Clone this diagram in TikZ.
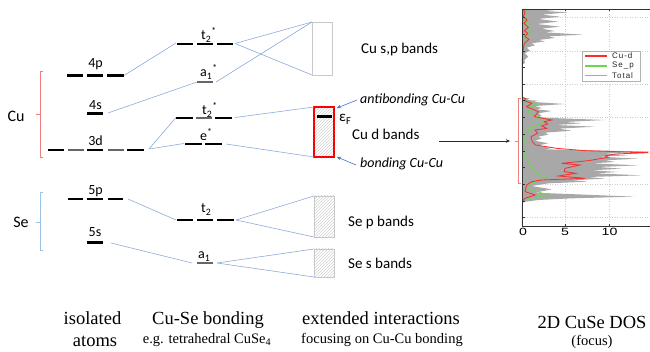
\documentclass[tikz,border=0pt]{standalone}
\usepackage{fontspec}
\setmainfont{Carlito}
\newfontfamily\capfont{Liberation Serif}
\newfontfamily\plotfont{Liberation Sans}
\newfontfamily\legfont[LetterSpace=12]{Liberation Sans}
\usetikzlibrary{patterns,arrows.meta}
\definecolor{linkblue}{HTML}{8FAADC}
\definecolor{arrblue}{HTML}{4472C4}
\definecolor{cured}{HTML}{F08080}
\definecolor{seblue}{HTML}{9DC3E6}
\definecolor{boxgray}{HTML}{C8C8C8}
\definecolor{dosred}{HTML}{FF2A2A}
\definecolor{dosgreen}{HTML}{6AD84A}
\definecolor{dosgray}{HTML}{A8A8A8}
\begin{document}
\begin{tikzpicture}[x=1pt,y=-1pt,
  lev/.style={line width=2.2pt},
  levthin/.style={line width=1.1pt, black!60},
  link/.style={linkblue, line width=0.6pt},
  lvl/.style={font=\fontsize{14}{14}\selectfont, inner sep=0pt, anchor=base},
  mlvl/.style={font=\fontsize{14}{14}\selectfont, inner sep=0pt, anchor=base west},
  band/.style={font=\fontsize{15}{15}\selectfont, inner sep=0pt, anchor=base west},
  ital/.style={font=\fontsize{14}{14}\selectfont\itshape, inner sep=0pt, anchor=base west},
  atom/.style={font=\fontsize{16}{16}\selectfont, inner sep=0pt},
  bigcap/.style={font=\capfont\fontsize{18.5}{18.5}\selectfont, inner sep=0pt, anchor=base},
  smallcap/.style={font=\capfont\fontsize{14.5}{14.5}\selectfont, inner sep=0pt, anchor=base},
  bandbox/.style={draw=boxgray, line width=0.6pt, inner sep=0pt, outer sep=0pt,
    pattern=north east lines, pattern color=gray!35},
  blarrow/.style={arrblue, line width=0.6pt, -{Stealth[length=4pt,width=3.5pt]}},
  tick/.style={line width=0.5pt, black!80},
  grid/.style={gray!40, dotted, line width=0.5pt},
  legtext/.style={font=\legfont\fontsize{8}{8}\selectfont, inner sep=0pt, anchor=west, text=black!85}
]
\useasboundingbox (0,0) rectangle (650,352);

% ---------------- isolated atoms ----------------
\draw[cured, line width=0.8pt] (43,71) -- (40,71) -- (40,157) -- (43,157);
\draw[cured, line width=0.8pt] (40,114) -- (36,114);
\node[atom] (cu) at (16,116) {Cu};
\draw[seblue, line width=0.8pt] (43,192) -- (40,192) -- (40,250) -- (43,250);
\draw[seblue, line width=0.8pt] (40,222) -- (36,222);
\node[atom] (se) at (21,222) {Se};

% 4p
\draw[lev] (67,75.5) -- (83,75.5) (87,75.5) -- (103,75.5) (107,75.5) -- (124,75.5);
\node[lvl] (l4p) at (95.5,68) {4p};
% 4s
\draw[lev] (87,113.5) -- (103,113.5);
\node[lvl] (l4s) at (95.5,109.5) {4s};
% 3d
\draw[lev] (48,150) -- (64,150) (87,150) -- (103,150) (127,150) -- (144,150);
\draw[levthin] (68,150) -- (84,150) (108,150) -- (124,150);
\node[lvl] (l3d) at (95.5,146) {3d};
% 5p
\draw[line width=1.2pt] (68,199) -- (83,199) (108,199) -- (123,199);
\draw[lev] (87,199) -- (103,199);
\node[lvl] (l5p) at (95.5,195) {5p};
% 5s
\draw[lev] (87,242.5) -- (103,242.5);
\node[lvl] (l5s) at (95,236.5) {5s};

% endpoints on the left
\coordinate (p4R) at (124,75.5);
\coordinate (s4R) at (108,113);
\coordinate (d3R) at (149,149);
\coordinate (p5R) at (128,199);
\coordinate (s5R) at (111,243);

% ---------------- Cu-Se bonding ----------------
\draw[lev] (177,44) -- (193,44) (197,44) -- (213,44) (217,44) -- (233,44);
\node[mlvl] (t2sa) at (201,40) {t\textsubscript{2}\textsuperscript{*}};
\draw[levthin] (197,82) -- (213,82);
\node[mlvl] (a1s) at (200,77) {a\textsubscript{1}\textsuperscript{*}};
\draw[lev] (176,118) -- (193,118) (215,118) -- (232,118);
\draw[levthin] (196,118) -- (212,118);
\node[mlvl] (t2sb) at (202,115) {t\textsubscript{2}\textsuperscript{*}};
\draw[lev] (185,144) -- (202,144) (205,144) -- (222,144);
\node[mlvl] (es) at (200,141) {e\textsuperscript{*}};
\draw[lev] (177,220) -- (193,220) (197,220) -- (213,220) (217,220) -- (234,220);
\node[mlvl] (t2) at (201,213) {t\textsubscript{2}};
\draw[levthin] (197,263) -- (213,263);
\node[mlvl] (a1) at (198,259) {a\textsubscript{1}};

\coordinate (t2aL) at (176,43);
\coordinate (t2aR) at (235,43.5);
\coordinate (a1sL) at (197,82);
\coordinate (a1sR) at (216,82);
\coordinate (t2bL) at (176,117.5);
\coordinate (t2bR) at (235,117.5);
\coordinate (esL) at (184,143.5);
\coordinate (esR) at (226,144);
\coordinate (t2L) at (176,220);
\coordinate (t2R) at (236,220);
\coordinate (a1L) at (192,263);
\coordinate (a1R) at (217,263);

% ---------------- extended interactions ----------------
\node[draw=boxgray, line width=0.6pt, fill=white, inner sep=0pt, outer sep=0pt,
      minimum width=20pt, minimum height=53pt] (spbox) at (322,48.5) {};
\node[bandbox, draw=red, line width=1.4pt, minimum width=20pt, minimum height=50pt] (dbox) at (324,132) {};
\draw[lev] (317,116.5) -- (332,116.5);
\node[bandbox, minimum width=20pt, minimum height=41pt] (pbox) at (324,216.5) {};
\node[bandbox, minimum width=20pt, minimum height=28pt] (sbox) at (324,263) {};

% connectors
\draw[link] (p4R) -- (t2aL);
\draw[link] (s4R) -- (a1sL);
\draw[link] (d3R) -- (t2bL);
\draw[link] (d3R) -- (esL);
\draw[link] (p5R) -- (t2L);
\draw[link] (s5R) -- (a1L);
\draw[link] (t2aR) -- (spbox.north west);
\draw[link] (t2aR) -- (spbox.south west);
\draw[link] (a1sR) -- (spbox.north west);
\draw[link] (t2bR) -- (dbox.north west);
\draw[link] (esR) -- (dbox.south west);
\draw[link] (t2R) -- (pbox.north west);
\draw[link] (t2R) -- (pbox.south west);
\draw[link] (a1R) -- (sbox.north west);
\draw[link] (a1R) -- (sbox.south west);

% band labels
\node[band] (spl) at (361,54) {Cu s,p bands};
\node[band] (dl) at (352,140) {Cu d bands};
\node[band] (pl) at (348,227) {Se p bands};
\node[band] (sl) at (348,269) {Se s bands};
\node[band] (ef) at (339,122) {ε\textsubscript{F}};
\node[ital] (anti) at (360,104) {antibonding Cu-Cu};
\node[ital] (bond) at (360,168) {bonding Cu-Cu};
\coordinate (antiS) at (357,100);
\coordinate (antiE) at (337,108);
\coordinate (bondS) at (356,165);
\coordinate (bondE) at (337,157);
\draw[blarrow] (antiS) -- (antiE);
\draw[blarrow] (bondS) -- (bondE);

% arrow to DOS
\coordinate (dosS) at (439,141);
\coordinate (dosE) at (510,141);
\draw[black!85, line width=0.6pt, -{Stealth[length=4pt,width=3.5pt]}] (dosS) -- (dosE);

% ---------------- DOS plot ----------------
\begin{scope}
\clip (505,0) rectangle (650,240);
\foreach \gx in {565,609} \draw[grid] (\gx,9) -- (\gx,226);
\foreach \gy in {17,51,84,117,151,184,217} \draw[grid] (522,\gy) -- (650,\gy);
\begin{scope}[shift={(505,0)}, xscale=1/3, yscale=1/3]
\fill[dosgray] (52,27) -- (160,29) -- (120,33) -- (190,37) -- (110,44) -- (165,50) -- (100,57) -- (160,65) -- (95,72) -- (165,80) -- (110,86) -- (150,93) -- (120,97) -- (235,104) -- (130,109) -- (150,114) -- (100,120) -- (120,124) -- (80,130) -- (90,136) -- (65,143) -- (75,152) -- (60,160) -- (70,170) -- (58,180) -- (60,188) -- (52,195)
 -- (52,292) -- (75,296) -- (65,300) -- (100,302) -- (85,306) -- (180,312) -- (90,318) -- (110,324) -- (95,328) -- (140,333) -- (100,340) -- (110,346) -- (90,352) -- (300,360) -- (180,366) -- (230,370) -- (150,375) -- (270,380) -- (160,386) -- (200,392) -- (120,398) -- (130,404) -- (100,410) -- (110,416) -- (90,422) -- (130,430) -- (100,436) -- (140,444) -- (120,448) -- (440,455) -- (300,460) -- (370,466) -- (280,470) -- (400,476) -- (300,481) -- (330,486) -- (260,490) -- (400,496) -- (280,501) -- (350,506) -- (260,511) -- (340,516) -- (270,520) -- (410,526) -- (250,531) -- (300,536) -- (200,541) -- (250,545) -- (130,550) -- (80,558) -- (140,568) -- (90,578) -- (390,590) -- (200,595) -- (100,600) -- (55,606) -- (52,612) -- cycle;
\draw[dosgreen, line width=0.8pt] (60,27) -- (66,32) -- (58,40) -- (62,50) -- (68,60) -- (64,70) -- (70,82) -- (75,100) -- (65,110) -- (58,125) -- (55,145) -- (52,170) -- (52,292) -- (60,296) -- (72,306) -- (100,315) -- (75,320) -- (68,340) -- (110,352) -- (125,360) -- (110,370) -- (82,380) -- (72,390) -- (66,400) -- (60,420) -- (55,440) -- (58,460) -- (68,480) -- (78,500) -- (95,520) -- (120,530) -- (110,540) -- (80,550) -- (62,560) -- (80,570) -- (130,585) -- (72,595) -- (55,600) -- (52,612) -- (52,678);
\draw[dosred, line width=0.8pt] (55,27) -- (60,38) -- (55,50) -- (66,60) -- (57,70) -- (70,82) -- (58,92) -- (68,100) -- (60,110) -- (72,118) -- (58,130) -- (55,145) -- (53,160) -- (52,180) -- (52,292) -- (62,296) -- (58,302) -- (80,310) -- (65,320) -- (100,335) -- (88,350) -- (140,360) -- (118,365) -- (128,372) -- (110,378) -- (125,385) -- (90,390) -- (98,400) -- (78,410) -- (82,425) -- (92,435) -- (155,445) -- (240,452) -- (430,458) -- (330,462) -- (300,468) -- (310,472) -- (285,476) -- (250,482) -- (170,490) -- (225,495) -- (180,505) -- (178,515) -- (212,520) -- (160,528) -- (240,535) -- (110,540) -- (80,545) -- (65,555) -- (60,575) -- (90,585) -- (60,595) -- (55,600) -- (52,612);
\end{scope}
\draw[black!80, line width=0.6pt] (650,9) -- (522,9) -- (522,226.5) -- (650,226.5);
\foreach \ty in {17,34,51,67,84,100,117,134,151,167,184,201,217} \draw[tick] (522,\ty) -- (524.5,\ty);
\foreach \tx in {565,609} {\draw[tick] (\tx,226.5) -- (\tx,224); \draw[tick] (\tx,9) -- (\tx,11.5);}
\end{scope}
% legend
\node[draw=gray!60, fill=white, line width=0.5pt, inner sep=0pt, minimum width=58pt, minimum height=30pt] (legend) at (611,66) {};
\draw[dosred, line width=1.4pt] (585,56) -- (607,56);
\draw[dosgreen, line width=1.4pt] (585,66) -- (607,66);
\draw[dosgray, line width=1.4pt] (585,75.5) -- (607,75.5);
\node[legtext] (lcud) at (612,56) {Cu-d};
\node[legtext] (lsep) at (612,66) {Se\_p};
\node[legtext] (ltot) at (612,75.5) {Total};
% axis labels
\node[font=\plotfont\fontsize{10.5}{10.5}\selectfont, inner sep=0pt] (x0) at (523,232) {\scalebox{1.35}[1]{0}};
\node[font=\plotfont\fontsize{10.5}{10.5}\selectfont, inner sep=0pt] (x5) at (565,232) {\scalebox{1.35}[1]{5}};
\node[font=\plotfont\fontsize{10.5}{10.5}\selectfont, inner sep=0pt] (x10) at (609.5,232) {\scalebox{1.35}[1]{10}};
\draw[cured, line width=0.8pt] (521,98) -- (518,98) -- (518,183) -- (521,183);
\draw[cured, line width=0.8pt] (518,141) -- (515,141);

% ---------------- captions ----------------
\node[bigcap] (c1a) at (92.5,325) {isolated};
\node[bigcap] (c1b) at (95,346) {atoms};
\node[bigcap] (c2a) at (208,325) {Cu-Se bonding};
\node[smallcap] (c2b) at (207,343) {e.g. tetrahedral CuSe\textsubscript{4}};
\node[bigcap] (c3a) at (381,324) {extended interactions};
\node[smallcap] (c3b) at (382,343) {focusing on Cu-Cu bonding};
\node[bigcap] (c4a) at (592,329) {2D CuSe DOS};
\node[smallcap] (c4b) at (592,345) {(focus)};
\end{tikzpicture}
\end{document}
